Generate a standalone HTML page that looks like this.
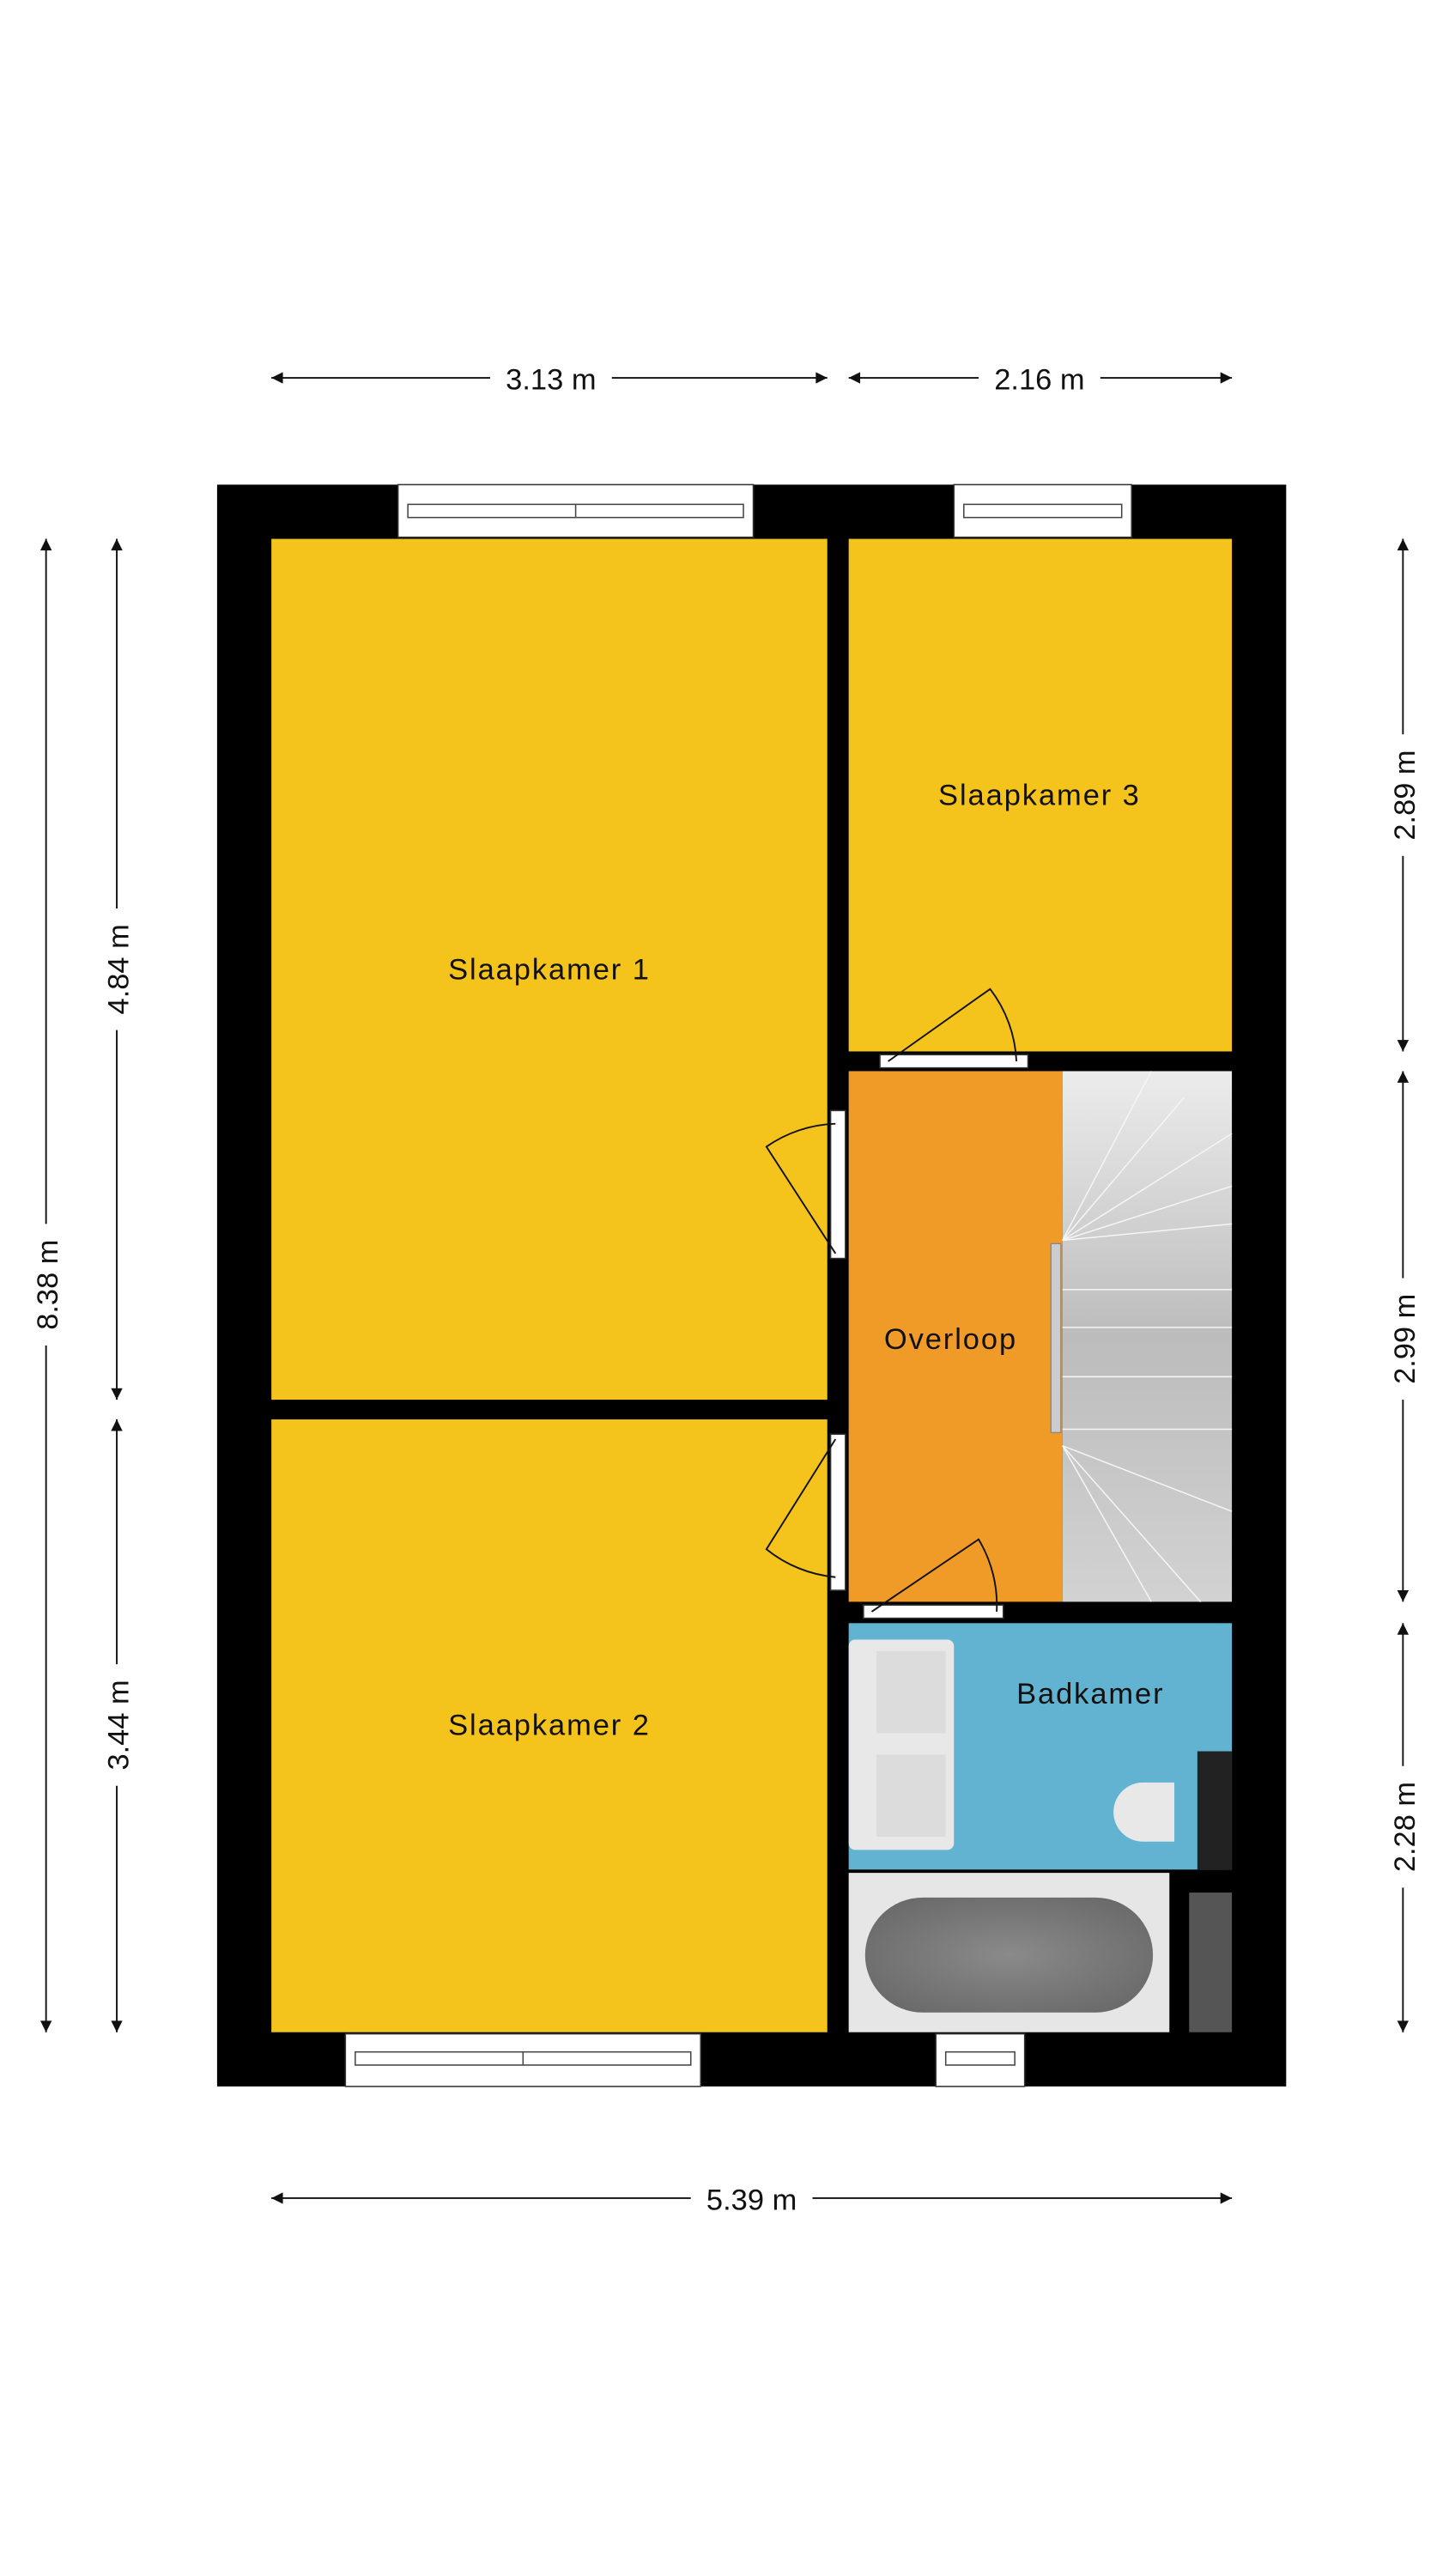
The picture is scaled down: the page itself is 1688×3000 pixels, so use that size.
<!DOCTYPE html>
<html><head><meta charset="utf-8"><style>
html,body{margin:0;padding:0;background:#fff;}
svg{display:block;}
text{font-family:"Liberation Sans",sans-serif;fill:#111;}
</style></head><body>
<svg width="1688" height="3000" viewBox="0 0 881 1568" preserveAspectRatio="none" xmlns="http://www.w3.org/2000/svg">
<defs>
<marker id="ah" viewBox="0 0 10 10" refX="10" refY="5" markerWidth="9" markerHeight="7" orient="auto-start-reverse" markerUnits="userSpaceOnUse"><path d="M0,0 L10,5 L0,10 z" fill="#111"/></marker>
<linearGradient id="st" x1="0" y1="0" x2="0" y2="1">
<stop offset="0" stop-color="#ececec"/><stop offset="0.5" stop-color="#bcbcbc"/><stop offset="1" stop-color="#d2d2d2"/></linearGradient>
<radialGradient id="tub" cx="0.5" cy="0.5" r="0.6"><stop offset="0" stop-color="#8a8a8a"/><stop offset="1" stop-color="#6a6a6a"/></radialGradient>
</defs>
<rect width="881" height="1568" fill="#fff"/>
<!-- walls -->
<rect x="132" y="295" width="650" height="975" fill="#000"/>
<!-- rooms -->
<rect x="165" y="328" width="338" height="524" fill="#f4c31c"/>
<rect x="165" y="864" width="338" height="373" fill="#f4c31c"/>
<rect x="516" y="328" width="233" height="312" fill="#f4c31c"/>
<rect x="516" y="652" width="130" height="323" fill="#f09a28"/>
<rect x="646" y="652" width="103" height="323" fill="url(#st)"/>
<g stroke="#f5f5f5" stroke-width="0.8" fill="none">
<line x1="646" y1="755" x2="700" y2="652"/><line x1="646" y1="755" x2="720" y2="668"/><line x1="646" y1="755" x2="749" y2="690"/><line x1="646" y1="755" x2="749" y2="722"/><line x1="646" y1="755" x2="749" y2="745"/>
<line x1="646" y1="785" x2="749" y2="785"/><line x1="646" y1="808" x2="749" y2="808"/><line x1="646" y1="838" x2="749" y2="838"/><line x1="646" y1="870" x2="749" y2="870"/>
<line x1="646" y1="880" x2="749" y2="920"/><line x1="646" y1="880" x2="730" y2="975"/><line x1="646" y1="880" x2="700" y2="975"/>
</g>
<rect x="639" y="757" width="6" height="115" fill="#ccc" stroke="#888" stroke-width="0.7"/>
<rect x="516" y="988" width="233" height="150" fill="#62b3d1"/>
<rect x="516" y="1140" width="195" height="97" fill="#e6e6e6"/>
<rect x="526" y="1155" width="175" height="70" rx="35" fill="url(#tub)"/>
<rect x="723" y="1152" width="26" height="85" fill="#555"/>
<rect x="728" y="1066" width="21" height="72" fill="#222"/>
<path d="M714,1085 L695,1085 A18,18 0 0 0 695,1121 L714,1121 Z" fill="#e8e8e8"/>
<rect x="516" y="998" width="64" height="128" rx="4" fill="#e8e8e8"/>
<rect x="533" y="1005" width="42" height="50" fill="#dcdcdc"/>
<rect x="533" y="1068" width="42" height="50" fill="#dcdcdc"/>
<!-- windows -->
<g fill="#fff" stroke="#333" stroke-width="0.8">
<rect x="242" y="295" width="216" height="32"/><rect x="580" y="295" width="108" height="32"/>
<rect x="210" y="1238" width="216" height="32"/><rect x="569" y="1238" width="54" height="32"/>
</g>
<g stroke="#444" stroke-width="0.8" fill="none">
<rect x="248" y="307" width="204" height="8"/><line x1="350" y1="307" x2="350" y2="315"/>
<rect x="586" y="307" width="96" height="8"/>
<rect x="216" y="1249" width="204" height="8"/><line x1="318" y1="1249" x2="318" y2="1257"/>
<rect x="575" y="1249" width="42" height="8"/>
</g>
<!-- doors -->
<g fill="#fff" stroke="#333" stroke-width="0.8">
<rect x="505" y="676" width="9" height="90"/><rect x="505" y="873" width="9" height="95"/>
<rect x="535" y="642" width="90" height="8"/><rect x="525" y="977" width="85" height="8"/>
</g>
<g fill="none" stroke="#111" stroke-width="1">
<path d="M508,763 L466,698 A78,78 0 0 1 508,684"/>
<path d="M508,876 L466,943 A78,78 0 0 0 508,960"/>
<path d="M540,646 L602,602 A78,78 0 0 1 618,646"/>
<path d="M530,981 L595,937 A78,78 0 0 1 606,981"/>
</g>
<!-- labels -->
<g font-size="18" text-anchor="middle" letter-spacing="1">
<text x="334" y="596">Slaapkamer 1</text>
<text x="334" y="1056">Slaapkamer 2</text>
<text x="632" y="490">Slaapkamer 3</text>
<text x="578" y="821">Overloop</text>
<text x="663" y="1037">Badkamer</text>
</g>
<!-- dimension lines -->
<g stroke="#111" stroke-width="1" marker-start="url(#ah)" marker-end="url(#ah)">
<line x1="165" y1="230" x2="503" y2="230"/><line x1="516" y1="230" x2="749" y2="230"/>
<line x1="165" y1="1338" x2="749" y2="1338"/>
<line x1="28" y1="328" x2="28" y2="1237"/>
<line x1="71" y1="328" x2="71" y2="852"/><line x1="71" y1="864" x2="71" y2="1237"/>
<line x1="853" y1="328" x2="853" y2="640"/><line x1="853" y1="652" x2="853" y2="975"/><line x1="853" y1="988" x2="853" y2="1237"/>
</g>
<g font-size="18" text-anchor="middle">
<rect x="298" y="218" width="74" height="24" fill="#fff"/><text x="335" y="237">3.13 m</text>
<rect x="595" y="218" width="74" height="24" fill="#fff"/><text x="632" y="237">2.16 m</text>
<rect x="420" y="1326" width="74" height="24" fill="#fff"/><text x="457" y="1345">5.39 m</text>
<rect x="16" y="745" width="24" height="74" fill="#fff"/><text transform="translate(35,782) rotate(-90)">8.38 m</text>
<rect x="59" y="553" width="24" height="74" fill="#fff"/><text transform="translate(78,590) rotate(-90)">4.84 m</text>
<rect x="59" y="1013" width="24" height="74" fill="#fff"/><text transform="translate(78,1050) rotate(-90)">3.44 m</text>
<rect x="841" y="447" width="24" height="74" fill="#fff"/><text transform="translate(860,484) rotate(-90)">2.89 m</text>
<rect x="841" y="778" width="24" height="74" fill="#fff"/><text transform="translate(860,815) rotate(-90)">2.99 m</text>
<rect x="841" y="1075" width="24" height="74" fill="#fff"/><text transform="translate(860,1112) rotate(-90)">2.28 m</text>
</g>
</svg>
</body></html>
